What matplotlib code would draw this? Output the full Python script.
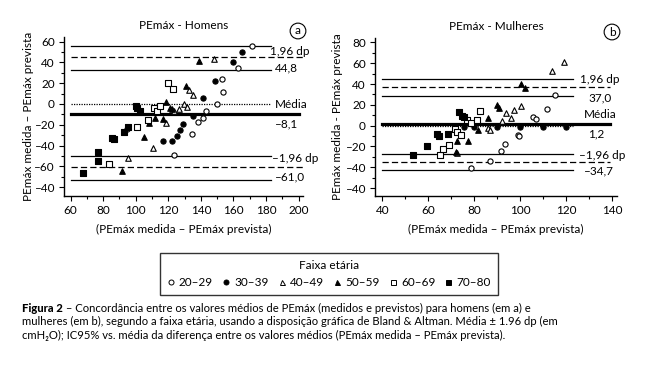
import matplotlib
matplotlib.use('Agg')
import matplotlib.pyplot as plt
from matplotlib.lines import Line2D

plt.rcParams['font.family'] = ['Lato', 'DejaVu Sans']

faixas = ['20–29', '30–39', '40–49', '50–59', '60–69', '70–80']

# PEmáx - Homens (painel a)
h_x_2029 = [94.4, 123.7, 134.6, 138.5, 141.5, 143.0, 149.7, 153.8, 152.8, 162.6, 171.6]
h_y_2029 = [-23.7, -48.7, -28.8, -17.3, -13.2, -6.4, 0.3, 11.5, 23.7, 34.3, 56.0]
h_x_3039 = [117.0, 122.5, 125.2, 127.4, 129.2, 135.0, 141.5, 148.5, 159.8, 165.3]
h_y_3039 = [-35.3, -35.6, -30.8, -25.0, -19.5, -11.2, 5.8, 22.4, 40.4, 49.7]
h_x_4049 = [95.5, 110.8, 118.6, 123.5, 126.6, 129.7, 131.3, 132.9, 135.4, 148.3]
h_y_4049 = [-52.2, -42.0, -18.0, -6.7, -4.5, -0.5, -3.2, 13.8, 8.7, 43.0]
h_x_5059 = [91.8, 105.3, 108.4, 111.9, 116.6, 118.6, 121.1, 122.1, 130.9, 139.0]
h_y_5059 = [-64.8, -31.4, -18.0, -13.8, -14.1, 2.2, -3.5, -4.8, 17.3, 41.0]
h_x_6069 = [83.4, 100.6, 107.8, 111.5, 112.9, 114.9, 120.0, 122.7]
h_y_6069 = [-57.4, -21.8, -15.4, -4.2, -6.7, -1.9, 19.9, 14.4]
h_x_7080 = [67.5, 77.1, 77.1, 85.3, 86.7, 92.8, 95.3, 100.2, 100.6, 102.7]
h_y_7080 = [-66.0, -46.2, -54.5, -32.4, -33.7, -26.9, -21.8, -1.9, -3.8, -7.0]

# PEmáx - Mulheres (painel b)
m_x_2029 = [78.5, 86.8, 91.6, 93.3, 99.1, 99.4, 105.7, 106.7, 111.7, 115.1]
m_y_2029 = [-41.0, -33.9, -24.0, -17.3, -8.5, -9.5, 8.1, 6.2, 15.8, 29.5]
m_x_3039 = [75.4, 79.7, 89.7, 99.9, 109.7, 119.9]
m_y_3039 = [-1.0, -1.0, -1.2, -1.0, -1.0, -1.2]
m_x_4049 = [72.6, 86.1, 86.8, 92.2, 93.8, 95.8, 97.4, 100.3, 113.7, 119.1]
m_y_4049 = [-26.0, -2.5, -4.1, 4.8, 11.9, 7.1, 15.1, 18.9, 52.6, 61.0]
m_x_5059 = [72.0, 72.3, 77.4, 81.7, 85.8, 89.7, 90.9, 100.3, 102.0]
m_y_5059 = [-25.0, -14.4, -14.4, -4.1, 7.7, 19.9, 16.7, 39.8, 36.0]
m_x_6069 = [65.1, 66.3, 69.1, 71.6, 72.6, 74.1, 76.7, 78.7, 81.3, 82.5]
m_y_6069 = [-28.2, -22.7, -18.6, -3.2, -5.8, -8.9, 5.5, 2.9, 5.5, 14.1]
m_x_7080 = [53.5, 59.3, 63.7, 64.7, 68.7, 73.2, 74.5, 75.7]
m_y_7080 = [-28.2, -19.5, -7.7, -9.9, -7.7, 13.2, 9.6, 8.1]

# linhas de Bland & Altman: limites (tracejado), IC dos limites (contínuo), média
h_media, h_lim_sup, h_lim_inf = -9.5, 44.8, -61.0
h_ic_sup = [56.0, 32.7]
h_ic_inf = [-49.7, -73.0]
m_media, m_lim_sup, m_lim_inf = 1.2, 37.0, -34.7
m_ic_sup = [44.9, 28.6]
m_ic_inf = [-27.5, -42.9]

h_rotulos = ['1,96 dp', '44,8', 'Média', '–8,1', '–1,96 dp', '–61,0']
m_rotulos = ['1,96 dp', '37,0', 'Média', '1,2', '–1,96 dp', '–34,7']

estilos = [
    dict(marker='o', facecolor='white', edgecolor='black', s=14),
    dict(marker='o', facecolor='black', edgecolor='black', s=14),
    dict(marker='^', facecolor='white', edgecolor='black', s=16),
    dict(marker='^', facecolor='black', edgecolor='black', s=16),
    dict(marker='s', facecolor='white', edgecolor='black', s=16),
    dict(marker='s', facecolor='black', edgecolor='black', s=16),
]

fig = plt.figure(figsize=(6.7, 3.75), dpi=100)
ax1 = fig.add_axes([64 / 670, 1 - 196 / 375, 239 / 670, 159 / 375])
ax2 = fig.add_axes([375 / 670, 1 - 196 / 375, 242 / 670, 158 / 375])


def eixos(ax, xlim, ylim, xticks, yticks, yticklabels):
    ax.set_xlim(*xlim)
    ax.set_ylim(*ylim)
    ax.spines['top'].set_visible(False)
    ax.spines['right'].set_visible(False)
    for s in ['left', 'bottom']:
        ax.spines[s].set_linewidth(1.0)
    ax.set_xticks(xticks)
    ax.set_xticks([v + 10 for v in xticks[:-1]], minor=True)
    ax.set_yticks(yticks)
    ax.set_yticklabels(yticklabels)
    ax.set_yticks([v + 10 for v in yticks[:-1]], minor=True)
    ax.tick_params(which='major', direction='out', length=3.5, width=0.8, labelsize=8.5, pad=3)
    ax.tick_params(which='minor', direction='out', length=2.5, width=0.8)
    ax.set_xlabel('(PEmáx medida – PEmáx prevista)', fontsize=8.5, labelpad=6)


def linhas(ax, x0, x_fim_ic, x_fim, media, lim_sup, lim_inf, ic_sup, ic_inf, x_media_fim):
    for v in ic_sup + ic_inf:
        ax.plot([x0, x_fim_ic], [v, v], color='black', lw=0.9, zorder=1)
    for v in [lim_sup, lim_inf]:
        ax.plot([x0, x_fim], [v, v], color='black', lw=0.9, dashes=(5, 2.5), zorder=1)
    ax.plot([x0, x_fim_ic], [0, 0], color='black', lw=0.9, ls=(0, (1, 1)), zorder=1)
    ax.plot([x0, x_media_fim], [media, media], color='black', lw=2.3, zorder=1)


# painel a
grupos_h = [(h_x_2029, h_y_2029), (h_x_3039, h_y_3039), (h_x_4049, h_y_4049),
            (h_x_5059, h_y_5059), (h_x_6069, h_y_6069), (h_x_7080, h_y_7080)]
linhas(ax1, 60, 183, 203, h_media, h_lim_sup, h_lim_inf, h_ic_sup, h_ic_inf, 200)
for (gx, gy), est in zip(grupos_h, estilos):
    ax1.scatter(gx, gy, linewidths=0.8, zorder=3, clip_on=False, **est)
eixos(ax1, (56, 202.7), (-88.5, 64.4), [60, 80, 100, 120, 140, 160, 180, 200],
      [-80, -60, -40, -20, 0, 20, 40, 60],
      ['–40', '–60', '–40', '–20', '0', '20', '40', '60'])
ax1.set_ylabel('PEmáx medida – PEmáx prevista', fontsize=8.5, labelpad=0)
for (x, y), t in zip([(182.5, 50.3), (185.5, 35.0), (185.5, -0.5), (185.5, -19.5),
                      (183.7, -52.0), (185.5, -70.0)], h_rotulos):
    ax1.text(x, y, t, fontsize=8.5, ha='left', va='center')
ax1.set_title('PEmáx - Homens', fontsize=8.5, pad=6)

# painel b
grupos_m = [(m_x_2029, m_y_2029), (m_x_3039, m_y_3039), (m_x_4049, m_y_4049),
            (m_x_5059, m_y_5059), (m_x_6069, m_y_6069), (m_x_7080, m_y_7080)]
linhas(ax2, 40, 123, 139, m_media, m_lim_sup, m_lim_inf, m_ic_sup, m_ic_inf, 139)
for (gx, gy), est in zip(grupos_m, estilos):
    ax2.scatter(gx, gy, linewidths=0.8, zorder=3, clip_on=False, **est)
eixos(ax2, (36.8, 142), (-67.6, 84.3), [40, 60, 80, 100, 120, 140],
      [-60, -40, -20, 0, 20, 40, 60, 80],
      ['–40', '–40', '–20', '0', '20', '40', '60', '80'])
ax2.set_ylabel('PEmáx medida - PEmáx prevista', fontsize=8.5, labelpad=2)
for (x, y), t in zip([(126, 44.0), (129.5, 26.6), (127.5, 10.3), (129.5, -8.0),
                      (125.5, -29.0), (127.5, -43.5)], m_rotulos):
    ax2.text(x, y, t, fontsize=8.5, ha='left', va='center')
ax2.set_title('PEmáx - Mulheres', fontsize=8.5, pad=6)

# letras circuladas
fig.text(298 / 670, 1 - 31 / 375, 'a', fontsize=8.5, ha='center', va='center',
         bbox=dict(boxstyle='circle,pad=0.2', fc='white', ec='black', lw=0.8))
fig.text(612 / 670, 1 - 32 / 375, 'b', fontsize=8.5, ha='center', va='center',
         bbox=dict(boxstyle='circle,pad=0.2', fc='white', ec='black', lw=0.8))

# legenda
handles = [Line2D([], [], ls='none', marker=e['marker'], markerfacecolor=e['facecolor'],
                  markeredgecolor='black', markersize=3.6, markeredgewidth=0.7) for e in estilos]
leg = fig.legend(handles, faixas, loc='center', bbox_to_anchor=(329 / 670, 1 - 274 / 375),
                 ncol=6, title='Faixa etária', fontsize=8.5, title_fontsize=8.5,
                 frameon=True, fancybox=False, edgecolor='black', handlelength=0.6,
                 handletextpad=0.4, columnspacing=0.8, borderpad=0.6, borderaxespad=0)
leg.get_frame().set_linewidth(1.0)

# legenda da figura
fs = 8.1
t0 = fig.text(22 / 670, 1 - 308 / 375, 'Figura 2', fontsize=fs, weight='black', va='center')
fig.canvas.draw()
bb = t0.get_window_extent()
fig.text(bb.x1 / 670, 1 - 308 / 375,
         ' – Concordância entre os valores médios de PEmáx (medidos e previstos) para homens (em a) e',
         fontsize=fs, va='center')
fig.text(22 / 670, 1 - 321.5 / 375,
         'mulheres (em b), segundo a faixa etária, usando a disposição gráfica de Bland & Altman. Média ± 1.96 dp (em',
         fontsize=fs, va='center')
fig.text(22 / 670, 1 - 335 / 375,
         'cmH₂O); IC95% vs. média da diferença entre os valores médios (PEmáx medida – PEmáx prevista).',
         fontsize=fs, va='center')

fig.savefig('out.png', dpi=100)
